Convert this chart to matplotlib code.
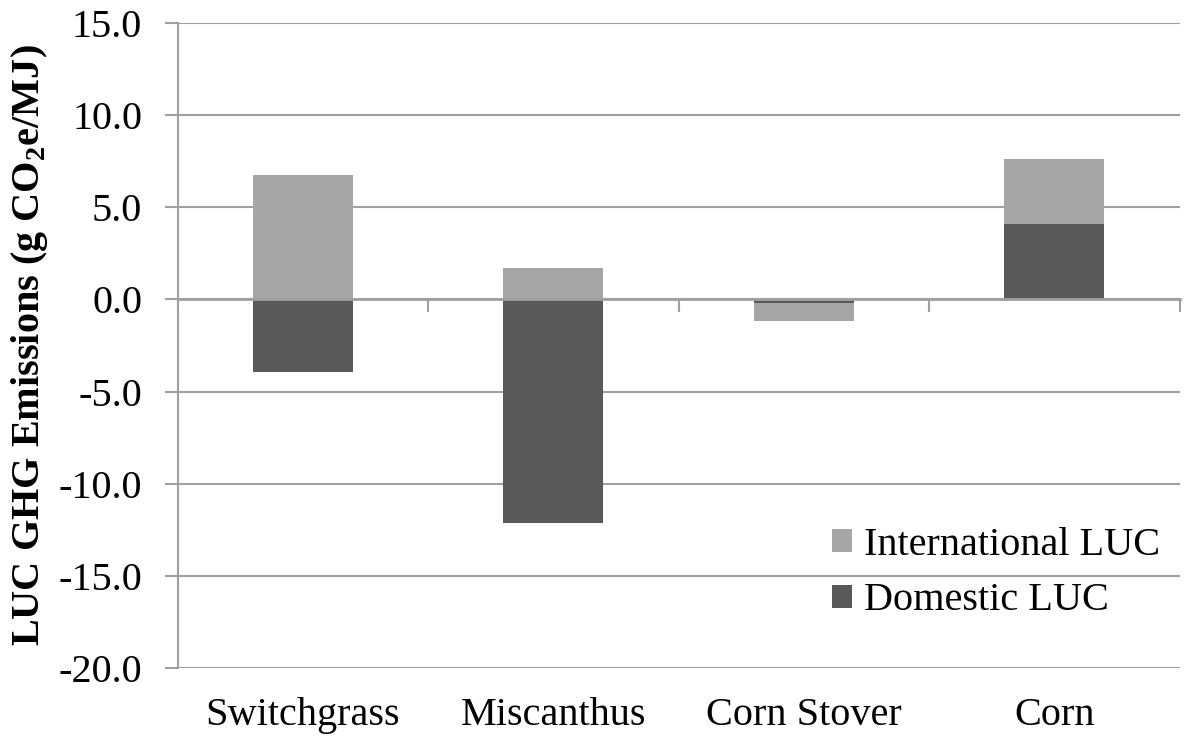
import matplotlib.pyplot as plt
import numpy as np

# values (g CO2e/MJ)
categories = ['Switchgrass', 'Miscanthus', 'Corn Stover', 'Corn']
domestic = [-3.92, -12.12, -0.22, 4.09]
international = [6.74, 1.70, -0.95, 3.52]
series_names = ['Domestic LUC', 'International LUC']
series_colors = ['#595959', '#A6A6A6']

plt.rcParams['font.family'] = ['Liberation Serif', 'DejaVu Serif']
plt.rcParams['mathtext.fontset'] = 'custom'
plt.rcParams['mathtext.rm'] = 'Liberation Serif'
plt.rcParams['mathtext.bf'] = 'Liberation Serif:bold'

grey = '#A0A0A0'
fig = plt.figure(figsize=(12, 7.51), dpi=100)
ax = fig.add_axes([0.148, 0.1105, 0.835, 0.859])

x = np.arange(len(categories))
pos_base = np.zeros(len(categories))
neg_base = np.zeros(len(categories))
handles = {}
for name, vals, col in zip(series_names, [domestic, international], series_colors):
    vals = np.array(vals)
    bottoms = np.where(vals >= 0, pos_base, neg_base)
    bars = ax.bar(x, vals, width=0.4, bottom=bottoms, color=col, zorder=3)
    handles[name] = bars
    pos_base = pos_base + np.clip(vals, 0, None)
    neg_base = neg_base + np.clip(vals, None, 0)

ax.set_xlim(-0.5, len(categories) - 0.5)
ax.set_ylim(-20, 15)
yt = np.arange(-20, 15.1, 5)
ax.set_yticks(yt)
ax.set_yticklabels([f'{v:.1f}' for v in yt])
ax.yaxis.grid(True, color=grey, linewidth=1.5, zorder=0)
ax.tick_params(axis='y', labelsize=29, length=9.5, width=1.5, color=grey, pad=16)

# category axis runs along zero, labels sit below the plot
for s in ['top', 'right']:
    ax.spines[s].set_visible(False)
ax.spines['left'].set_color(grey)
ax.spines['left'].set_linewidth(1.5)
ax.spines['bottom'].set_position(('data', 0))
ax.spines['bottom'].set_color(grey)
ax.spines['bottom'].set_linewidth(2)
ax.spines['bottom'].set_zorder(4)
ax.set_xticks(x)
ax.set_xticklabels([])
ax.tick_params(axis='x', which='major', length=0)
ax.set_xticks(np.arange(-0.5, len(categories)), minor=True)
ax.tick_params(axis='x', which='minor', length=9.5, width=1.5, color=grey)

sec = ax.secondary_xaxis('bottom')
sec.set_xticks(x)
sec.set_xticklabels(categories)
sec.tick_params(length=0, labelsize=29, pad=21)
sec.spines['bottom'].set_visible(False)

ax.set_ylabel('LUC GHG Emissions (g CO$_{\\mathbf{2}}$e/MJ)', fontsize=29,
              fontweight='bold', labelpad=6)

leg = fig.legend([handles['International LUC'], handles['Domestic LUC']],
                 ['International LUC', 'Domestic LUC'],
                 loc='upper left', bbox_to_anchor=(0.693, 0.298),
                 bbox_transform=fig.transFigure, frameon=False, fontsize=29,
                 handlelength=0.5, handleheight=0.5, handletextpad=0.3,
                 labelspacing=0.45, borderpad=0, borderaxespad=0)

fig.savefig('out.png', dpi=100)
